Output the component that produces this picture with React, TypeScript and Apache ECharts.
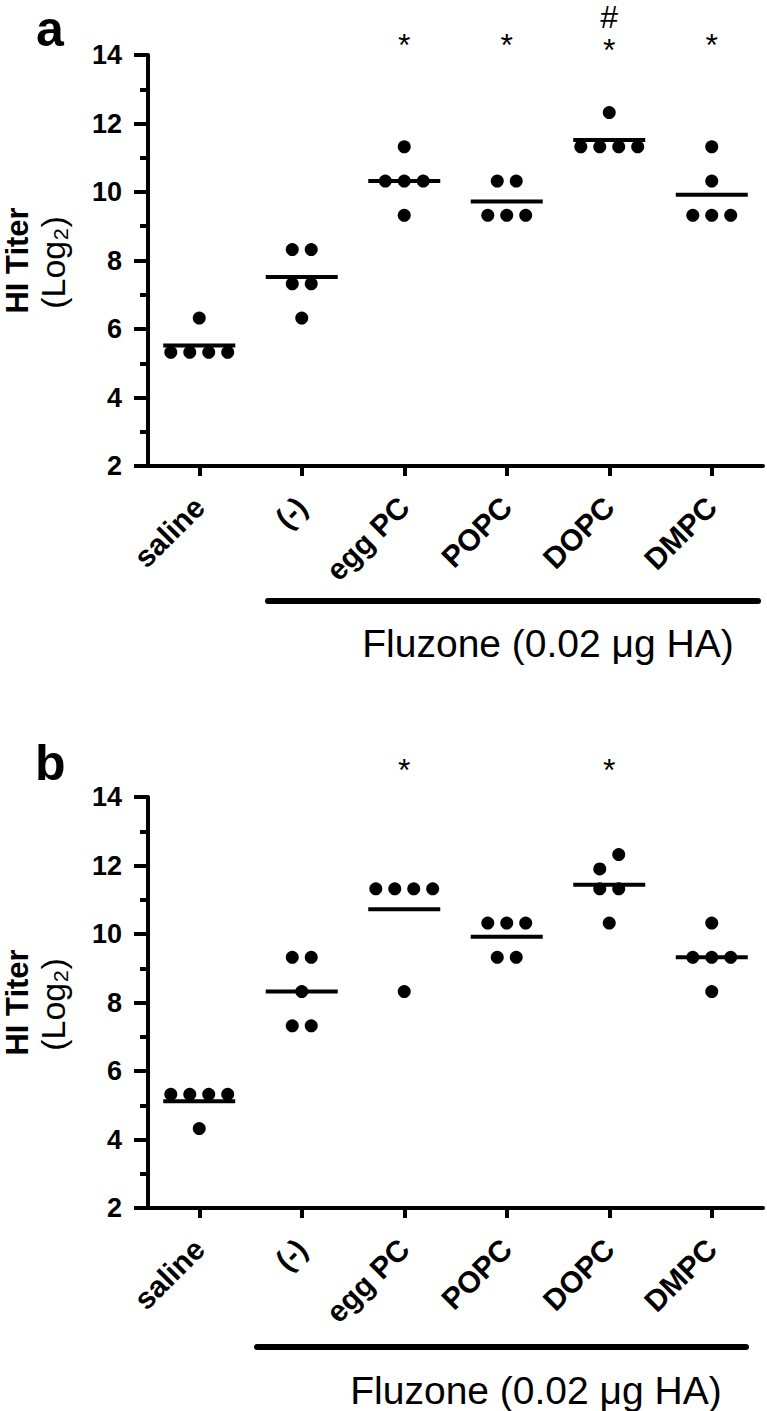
import React, { useEffect, useRef } from "react";
import * as echarts from "echarts";

const categories = ["saline", "(-)", "egg PC", "POPC", "DOPC", "DMPC"];
const yMin = 2;
const yMax = 14;
const yInterval = 2;

// HI titers (log2) per animal, panel a
const panelA: number[][] = [
  [6.32, 5.32, 5.32, 5.32, 5.32],
  [8.32, 8.32, 7.32, 7.32, 6.32],
  [11.32, 10.32, 10.32, 10.32, 9.32],
  [10.32, 10.32, 9.32, 9.32, 9.32],
  [12.32, 11.32, 11.32, 11.32, 11.32],
  [11.32, 10.32, 9.32, 9.32, 9.32],
];
// panel b
const panelB: number[][] = [
  [5.32, 5.32, 5.32, 5.32, 4.32],
  [9.32, 9.32, 8.32, 7.32, 7.32],
  [11.32, 11.32, 11.32, 11.32, 8.32],
  [10.32, 10.32, 10.32, 9.32, 9.32],
  [12.32, 11.9, 11.32, 11.32, 10.32],
  [10.32, 9.32, 9.32, 9.32, 8.32],
];
const starsA = ["", "", "*", "*", "*", "*"];
const hashA = ["", "", "", "", "#", ""];
const starsB = ["", "", "*", "", "*", ""];
const starLevelA = 14.3;
const stackLevelA = 14.62;
const starLevelB = 14.8;

const FONT = "Liberation Sans, Arial, Helvetica, sans-serif";
const STEP = 0.185;

function spread(vals: number[], idx: number): number[][] {
  const sorted = [...vals].sort((a, b) => a - b);
  const bins: number[][] = [];
  for (const v of sorted) {
    const last = bins[bins.length - 1];
    if (last && v - last[0] < 0.5) last.push(v);
    else bins.push([v]);
  }
  const pts: number[][] = [];
  for (const bin of bins) {
    bin.forEach((v, k) => pts.push([idx + (k - (bin.length - 1) / 2) * STEP, v]));
  }
  return pts;
}

function mean(a: number[]) {
  return a.reduce((s, v) => s + v, 0) / a.length;
}

function annot(stars: string[], hashes: string[] | null, level: number, stackLevel: number) {
  return stars
    .map((t, i) => {
      const h = hashes ? hashes[i] : "";
      if (!t && !h) return null;
      return h ? { name: h + "\n" + t, value: [i, stackLevel] } : { name: t, value: [i, level] };
    })
    .filter((d) => d !== null);
}

const GRID_LEFT = 148;
const GRID_W = 615;
const GRID_H = 411;
const TOPS = [55, 797];

function buildPanelAxes(g: number) {
  const xCat = {
    type: "category",
    gridIndex: g,
    data: categories,
    boundaryGap: true,
    axisLine: { show: true, onZero: false, lineStyle: { color: "#000", width: 4 } },
    axisTick: { show: true, alignWithLabel: true, length: 10, lineStyle: { color: "#000", width: 4 } },
    axisLabel: {
      rotate: 45,
      margin: 36,
      color: "#000",
      fontFamily: FONT,
      fontWeight: "bold",
      fontSize: 30,
      interval: 0,
    },
    splitLine: { show: false },
  };
  const xVal = { type: "value", gridIndex: g, min: -0.5, max: 5.5, show: false, axisLine: { onZero: false } };
  const y = {
    type: "value",
    gridIndex: g,
    min: yMin,
    max: yMax,
    interval: yInterval,
    axisLine: { show: true, onZero: false, lineStyle: { color: "#000", width: 4 } },
    axisTick: { show: true, length: 14, lineStyle: { color: "#000", width: 4 } },
    minorTick: { show: true, splitNumber: 2, length: 8, lineStyle: { color: "#000", width: 4 } },
    splitLine: { show: false },
    axisLabel: { color: "#000", fontFamily: FONT, fontWeight: "bold", fontSize: 27, margin: 26 },
  };
  return { xCat, xVal, y };
}

function buildPanelSeries(g: number, data: number[][], stars: string[], hashes: string[] | null, level: number, stackLevel: number) {
  const dots: number[][] = [];
  data.forEach((vals, i) => dots.push(...spread(vals, i)));
  const means = data.map((vals, i) => [i, mean(vals)]);
  return [
    {
      type: "scatter",
      xAxisIndex: 2 * g + 1,
      yAxisIndex: g,
      data: dots,
      symbol: "circle",
      symbolSize: 13,
      itemStyle: { color: "#000", opacity: 1 },
      emphasis: { disabled: true },
      clip: false,
      z: 3,
    },
    {
      type: "scatter",
      xAxisIndex: 2 * g + 1,
      yAxisIndex: g,
      data: means,
      symbol: "rect",
      symbolSize: [72, 4],
      itemStyle: { color: "#000", opacity: 1 },
      emphasis: { disabled: true },
      clip: false,
      z: 4,
    },
    {
      type: "scatter",
      xAxisIndex: 2 * g + 1,
      yAxisIndex: g,
      data: annot(stars, hashes, level, stackLevel),
      symbolSize: 0,
      itemStyle: { opacity: 1 },
      label: {
        show: true,
        position: "inside",
        formatter: "{b}",
        color: "#000",
        opacity: 1,
        fontFamily: FONT,
        fontSize: 32,
        lineHeight: 33,
      },
      clip: false,
    },
  ];
}

function yTitle(centerY: number) {
  return [
    {
      type: "text",
      x: 17,
      y: centerY,
      rotation: Math.PI / 2,
      style: { text: "HI Titer", font: `bold 31px ${FONT}`, fill: "#000", textAlign: "center", textVerticalAlign: "middle" },
    },
    {
      type: "text",
      x: 53,
      y: centerY + 2,
      rotation: Math.PI / 2,
      style: { text: "(Log\u2082)", font: `34px ${FONT}`, fill: "#000", textAlign: "center", textVerticalAlign: "middle" },
    },
  ];
}

export default function App() {
  const ref = useRef<HTMLDivElement>(null);
  useEffect(() => {
    if (!ref.current) return;
    const chart = echarts.init(ref.current, undefined, { renderer: "svg" });
    const a = buildPanelAxes(0);
    const b = buildPanelAxes(1);
    const option: any = {
      animation: false,
      backgroundColor: "#fff",
      grid: TOPS.map((t) => ({ left: GRID_LEFT, top: t, width: GRID_W, height: GRID_H, containLabel: false })),
      xAxis: [a.xCat, a.xVal, b.xCat, b.xVal],
      yAxis: [a.y, b.y],
      series: [
        ...buildPanelSeries(0, panelA, starsA, hashA, starLevelA, stackLevelA),
        ...buildPanelSeries(1, panelB, starsB, null, starLevelB, 0),
      ],
      graphic: [
        { type: "text", left: 36, top: 4, style: { text: "a", font: `bold 50px ${FONT}`, fill: "#000" } },
        { type: "text", left: 35, top: 738, style: { text: "b", font: `bold 50px ${FONT}`, fill: "#000" } },
        ...yTitle(TOPS[0] + GRID_H / 2),
        ...yTitle(TOPS[1] + GRID_H / 2),
        { type: "line", shape: { x1: 268, y1: 601, x2: 758, y2: 601 }, style: { stroke: "#000", lineWidth: 6, lineCap: "round" } },
        { type: "line", shape: { x1: 257, y1: 1347, x2: 746, y2: 1347 }, style: { stroke: "#000", lineWidth: 6, lineCap: "round" } },
        {
          type: "text",
          x: 548,
          y: 643,
          style: { text: "Fluzone (0.02 \u03bcg HA)", font: `39px ${FONT}`, fill: "#000", textAlign: "center", textVerticalAlign: "middle" },
        },
        {
          type: "text",
          x: 536,
          y: 1390,
          style: { text: "Fluzone (0.02 \u03bcg HA)", font: `39px ${FONT}`, fill: "#000", textAlign: "center", textVerticalAlign: "middle" },
        },
      ],
    };
    chart.setOption(option);
    return () => chart.dispose();
  }, []);
  return <div ref={ref} style={{ position: "absolute", left: 0, top: 0, width: 767, height: 1411 }} />;
}
